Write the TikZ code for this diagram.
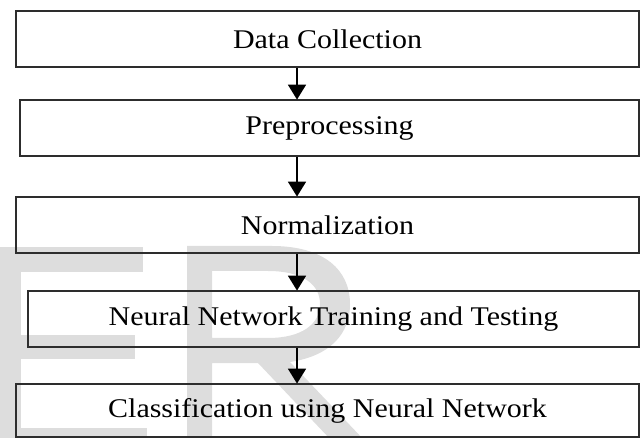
\documentclass[tikz,border=0pt]{standalone}
\usepackage{graphicx}
\usepackage{fontspec}
\setmainfont{Liberation Serif}
\usetikzlibrary{arrows.meta}
\definecolor{wm}{RGB}{221,221,221}
\definecolor{edge}{RGB}{45,45,45}
\newcommand{\widetext}[1]{\scalebox{1.11}[1]{#1}}
\tikzset{
  stage/.style={draw=edge, line width=1.8pt, inner sep=0pt, align=center,
    font=\fontsize{27}{30}\selectfont},
  flow/.style={draw=black, line width=1.8pt,
    -{Triangle[length=15pt,width=18pt]}, shorten >=-0.5pt}
}
\begin{document}
\begin{tikzpicture}[x=1pt,y=-1pt]
\useasboundingbox (0,0) rectangle (640,438);
% watermark letters
\fill[wm] (-2,247) rectangle (21,440);
\fill[wm] (-2,247) rectangle (143,272);
\fill[wm] (-2,335) rectangle (135,359);
\fill[wm] (-2,428) rectangle (147,440);
\fill[wm, even odd rule]
  (187,246) -- (272,246) .. controls (324,246) and (350,270) .. (350,304)
  .. controls (350,334) and (330,356) .. (290,362) -- (364,440) -- (331,440)
  -- (258,363) -- (212,363) -- (212,440) -- (187,440) -- cycle
  (212,271) -- (268,271) .. controls (302,271) and (320,284) .. (320,304)
  .. controls (320,324) and (302,338) .. (268,338) -- (212,338) -- cycle;
% stages
\node[stage, minimum width=623pt, minimum height=56pt] (b1) at (327.5,39) {\widetext{Data Collection}};
\node[stage, minimum width=619pt, minimum height=56pt] (b2) at (329.5,128) {\widetext{Preprocessing}};
\node[stage, minimum width=623pt, minimum height=56pt] (b3) at (327.5,225) {\widetext{Normalization}};
\node[stage, minimum width=611pt, minimum height=56pt] (b4) at (333.5,319) {\widetext{Neural Network Training and Testing}};
\node[stage, minimum width=623pt, minimum height=53pt] (b5) at (327.5,410.5) {\widetext{Classification using Neural Network}};
\coordinate (ax) at (297,0);
\draw[flow] (b1.south -| ax) -- (b2.north -| ax);
\draw[flow] (b2.south -| ax) -- (b3.north -| ax);
\draw[flow] (b3.south -| ax) -- (b4.north -| ax);
\draw[flow] (b4.south -| ax) -- (b5.north -| ax);
\end{tikzpicture}
\end{document}
